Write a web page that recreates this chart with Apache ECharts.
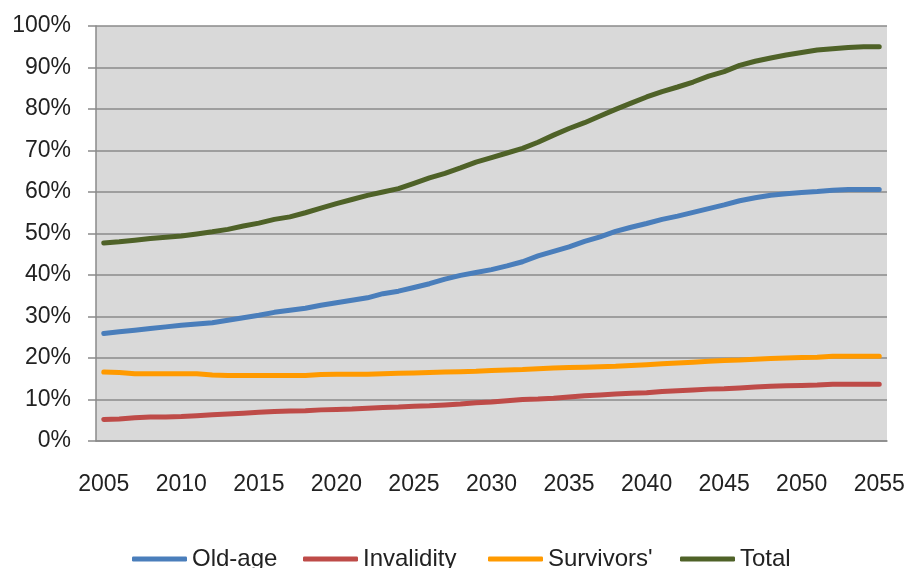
<!DOCTYPE html>
<html>
<head>
<meta charset="utf-8">
<script src="https://cdn.jsdelivr.net/npm/echarts@6/dist/echarts.min.js"></script>
<style>html,body{margin:0;padding:0;background:#fff}#c{width:908px;height:568px}</style>
</head>
<body>
<div id="c"></div>
<script>
var years = [];
for (var y = 2005; y <= 2055; y++) years.push(String(y));

var oldAge = [25.9,26.3,26.7,27.1,27.5,27.9,28.2,28.5,29.1,29.7,30.3,31.0,31.5,32.0,32.7,33.3,33.9,34.5,35.5,36.1,37.0,37.9,39.0,39.9,40.6,41.3,42.2,43.2,44.6,45.7,46.8,48.1,49.2,50.5,51.5,52.4,53.4,54.2,55.1,56.0,56.9,57.9,58.6,59.2,59.6,59.9,60.1,60.4,60.6,60.6,60.6];
var invalidity = [5.2,5.3,5.6,5.8,5.8,5.9,6.1,6.3,6.5,6.7,6.9,7.1,7.2,7.3,7.5,7.6,7.7,7.9,8.1,8.2,8.4,8.5,8.7,8.9,9.2,9.4,9.7,10.0,10.1,10.3,10.6,10.9,11.1,11.3,11.5,11.6,11.9,12.1,12.3,12.5,12.6,12.8,13.0,13.2,13.3,13.4,13.5,13.7,13.7,13.7,13.7];
var survivors = [16.6,16.5,16.2,16.2,16.2,16.2,16.2,15.9,15.8,15.8,15.8,15.8,15.8,15.8,16.0,16.1,16.1,16.1,16.2,16.3,16.4,16.5,16.6,16.7,16.8,17.0,17.1,17.2,17.4,17.6,17.7,17.8,17.9,18.0,18.2,18.4,18.6,18.8,19.0,19.2,19.4,19.5,19.7,19.9,20.0,20.1,20.2,20.4,20.4,20.4,20.4];
var total = [47.7,48.0,48.4,48.8,49.1,49.4,49.9,50.4,51.0,51.8,52.5,53.4,54.0,55.0,56.1,57.2,58.2,59.2,60.0,60.8,62.1,63.4,64.5,65.8,67.2,68.3,69.4,70.5,72.0,73.7,75.3,76.7,78.3,79.9,81.4,82.9,84.2,85.3,86.5,87.9,89.0,90.5,91.5,92.3,93.0,93.6,94.2,94.5,94.8,95.0,95.0];

var seriesNames = ["Old-age", "Invalidity", "Survivors'", "Total"];
var seriesData = [oldAge, invalidity, survivors, total];
var colors = ['#4A7EBB', '#BE4B48', '#FF9A00', '#4F6228'];
var legendLeft = [132, 303, 488, 680];

var font = 'Liberation Sans';
var chart = echarts.init(document.getElementById('c'), null, {renderer: 'canvas'});
chart.setOption({
  animation: false,
  color: colors,
  grid: {left: 96, right: 21, top: 26, bottom: 127, show: true, backgroundColor: '#D9D9D9', borderWidth: 0},
  legend: seriesNames.map(function (n, i) {
    return {
      left: legendLeft[i], top: 547, padding: 0,
      icon: 'roundRect', itemWidth: 55, itemHeight: 5,
      textStyle: {fontFamily: font, fontSize: 24, color: '#222'},
      data: [n]
    };
  }),
  xAxis: {
    type: 'category', data: years, boundaryGap: true,
    axisLine: {lineStyle: {color: '#8a8a8a', width: 1.5}},
    axisTick: {interval: 0, length: 8, lineStyle: {color: '#8a8a8a', width: 1.5}},
    axisLabel: {interval: 4, margin: 32, fontFamily: font, fontSize: 23, color: '#222'},
    splitLine: {show: false}
  },
  yAxis: {
    type: 'value', min: 0, max: 100, interval: 10,
    axisLine: {show: true, lineStyle: {color: '#8a8a8a', width: 1.5}},
    axisTick: {show: true, length: 8, lineStyle: {color: '#8a8a8a', width: 1.5}},
    axisLabel: {formatter: '{value}%', margin: 25, fontFamily: font, fontSize: 23, color: '#222'},
    splitLine: {lineStyle: {color: '#8a8a8a', width: 1.5}}
  },
  series: seriesNames.map(function (n, i) {
    return {
      name: n, type: 'line', data: seriesData[i], showSymbol: false, symbol: 'none',
      lineStyle: {width: 5, color: colors[i], cap: 'round', join: 'round'},
      itemStyle: {color: colors[i]}
    };
  })
});
</script>
</body>
</html>
